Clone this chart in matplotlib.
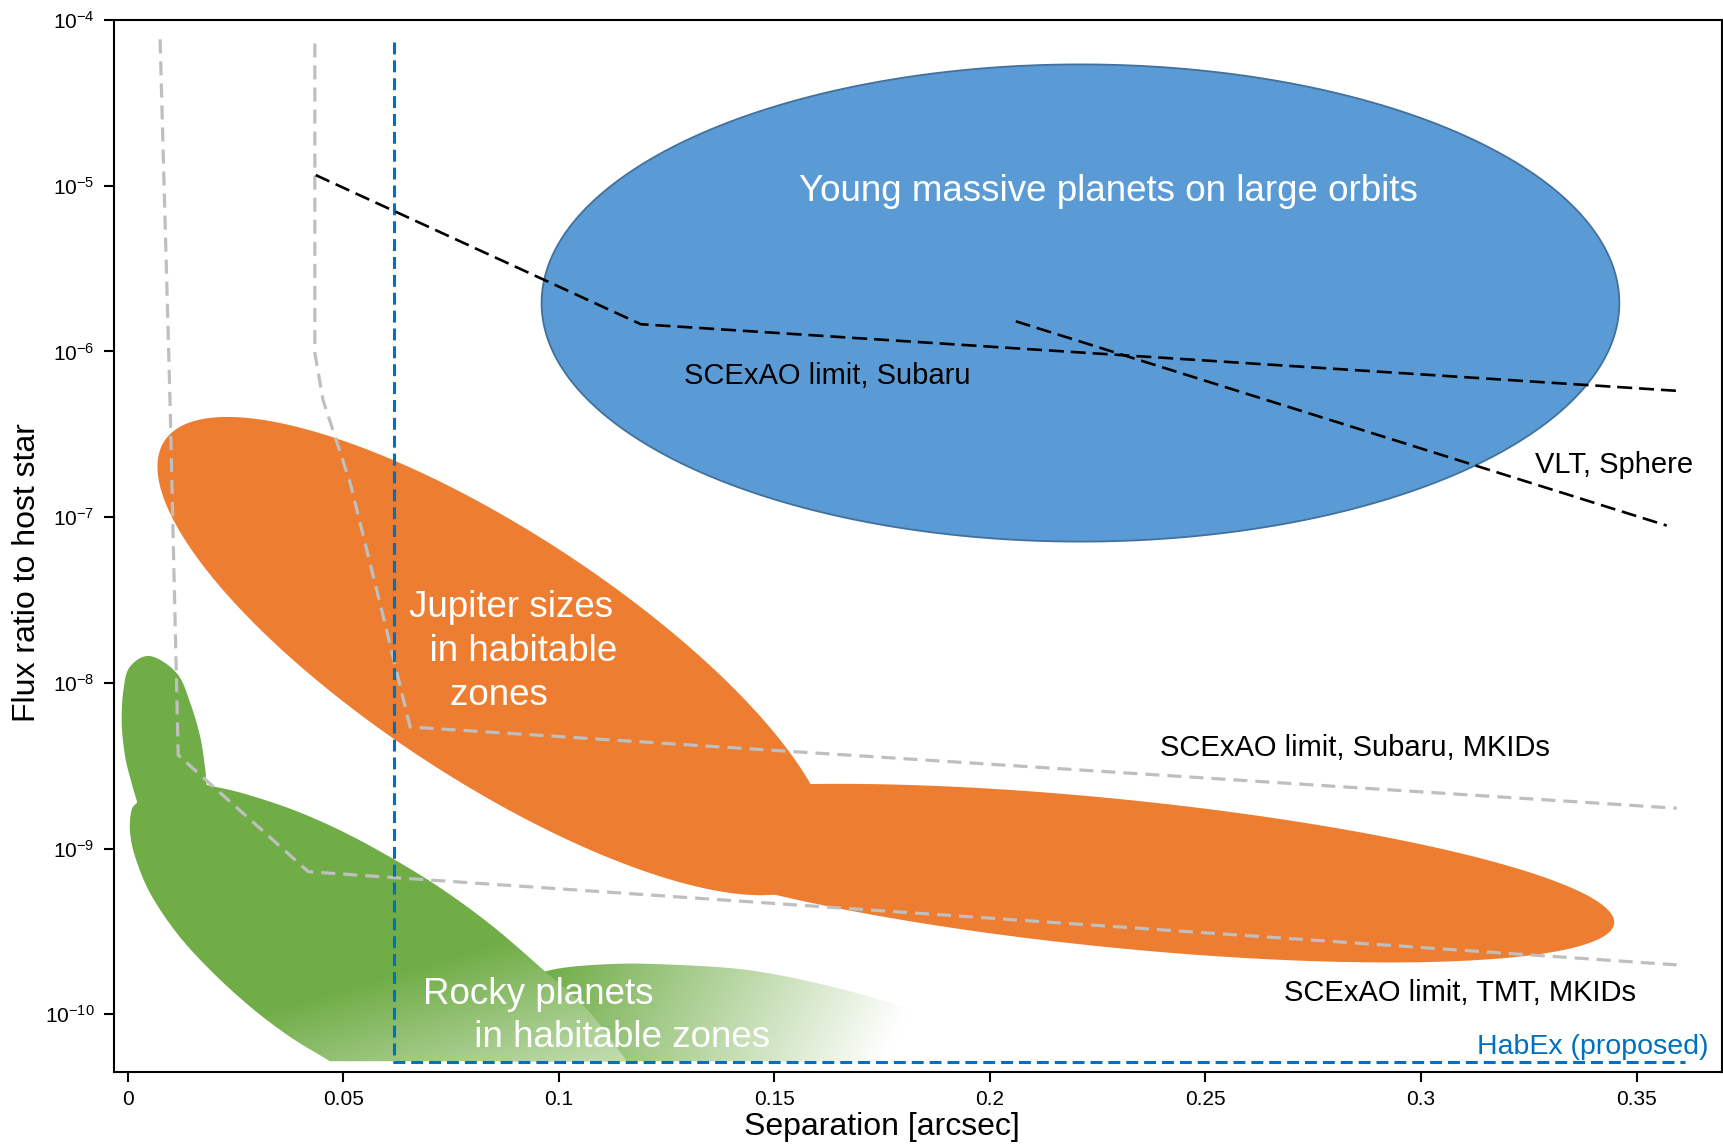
import numpy as np
import matplotlib.pyplot as plt
from matplotlib.patches import Polygon

plt.rcParams['font.family'] = ['Liberation Sans', 'DejaVu Sans']
plt.rcParams['mathtext.fontset'] = 'custom'
plt.rcParams['mathtext.rm'] = 'Liberation Sans'
plt.rcParams['axes.unicode_minus'] = False

# axes ticks
sep_ticks = [0, 0.05, 0.1, 0.15, 0.2, 0.25, 0.3, 0.35]
sep_ticklabels = ['0', '0.05', '0.1', '0.15', '0.2', '0.25', '0.3', '0.35']
flux_ticks = [1e-4, 1e-5, 1e-6, 1e-7, 1e-8, 1e-9, 1e-10]
flux_ticklabels = [r'$\mathregular{10^{-%d}}$' % n for n in range(4, 11)]

# instrument limits (separation [arcsec], flux ratio)
subaru_sep = [0.0436, 0.1190, 0.3600]
subaru_flux = [1.16e-5, 1.46e-6, 5.77e-7]
sphere_sep = [0.2060, 0.3570]
sphere_flux = [1.52e-6, 8.89e-8]
mkid_subaru_sep = [0.0434, 0.0434, 0.0453, 0.0516, 0.0593, 0.0655, 0.3593]
mkid_subaru_flux = [7.23e-5, 9.77e-7, 5.09e-7, 1.61e-7, 2.49e-8, 5.41e-9, 1.75e-9]
mkid_tmt_sep = [0.0075, 0.0098, 0.0117, 0.0419, 0.3598]
mkid_tmt_flux = [7.65e-5, 5.09e-7, 3.66e-9, 7.24e-10, 1.98e-10]
habex_sep = [0.0618, 0.0618, 0.3612]
habex_flux = [7.39e-5, 5.13e-11, 5.13e-11]

# elliptical regions: centre (sep, flux), half axes as (arcsec, decades)
young_center = (0.221, 1.96e-6)
young_major, young_minor = (0.125, 0.0), (0.0, 1.44)
jup_tilt_center = (0.0850, 1.45e-8)
jup_tilt_major, jup_tilt_minor = (0.0765, -1.298), (-0.0158, -0.631)
jup_flat_center = (0.2288, 7.1e-10)
jup_flat_major, jup_flat_minor = (0.1160, -0.3026), (-0.0017, -0.446)

# rocky planets region outline
rocky_floor = 5.2e-11
rocky_cap_sep = [0.0022, 0.0009, -0.0006, -0.0014, -0.0010, 0.0005, 0.0052, 0.0114, 0.0145, 0.0168, 0.0179, 0.0183]
rocky_cap_flux = [1.90e-9, 2.48e-9, 3.58e-9, 5.71e-9, 9.05e-9, 1.25e-8, 1.45e-8, 1.14e-8, 7.55e-9, 4.73e-9, 3.12e-9, 2.42e-9]
rocky_top_sep = [0.0183, 0.0268, 0.0384, 0.0500, 0.0620, 0.0732, 0.0848, 0.0964, 0.1067, 0.1158]
rocky_top_flux = [2.42e-9, 2.15e-9, 1.71e-9, 1.26e-9, 8.53e-10, 5.62e-10, 3.37e-10, 1.85e-10, 1.06e-10, rocky_floor]
rocky_low_sep = [0.0469, 0.0376, 0.0284, 0.0191, 0.0114, 0.0052, 0.0017, 0.0005, 0.0009, 0.0022]
rocky_low_flux = [rocky_floor, 7.31e-11, 1.11e-10, 1.85e-10, 3.08e-10, 5.37e-10, 8.93e-10, 1.29e-9, 1.71e-9, 1.90e-9]
rocky_tail_sep = [0.0863, 0.0887, 0.0975, 0.1125, 0.1281, 0.1436, 0.1589, 0.1745, 0.1907, 0.1965]
rocky_tail_flux = [rocky_floor, 1.40e-10, 1.83e-10, 2.01e-10, 1.98e-10, 1.85e-10, 1.56e-10, 1.22e-10, 8.61e-11, rocky_floor]

BLUE = '#5B9BD5'
ORANGE = '#ED7D31'
GREEN = np.array([0x70, 0xAD, 0x47]) / 255.0


def ellipse(center, major, minor, n=600):
    t = np.linspace(0, 2 * np.pi, n)
    s = center[0] + major[0] * np.cos(t) + minor[0] * np.sin(t)
    d = np.log10(center[1]) + major[1] * np.cos(t) + minor[1] * np.sin(t)
    return s, 10 ** d


def smooth(seps, fluxes, n=16):
    # catmull-rom through the points, in (sep, log flux) space
    p = np.column_stack([seps, np.log10(fluxes)])
    p = np.vstack([2 * p[0] - p[1], p, 2 * p[-1] - p[-2]])
    t = np.linspace(0, 1, n, endpoint=False)[:, None]
    out = []
    for i in range(1, len(p) - 2):
        p0, p1, p2, p3 = p[i - 1], p[i], p[i + 1], p[i + 2]
        out.append(0.5 * (2 * p1 + (-p0 + p2) * t + (2 * p0 - 5 * p1 + 4 * p2 - p3) * t ** 2
                          + (-p0 + 3 * p1 - 3 * p2 + p3) * t ** 3))
    out.append(p[-2][None])
    out = np.vstack(out)
    return out[:, 0], 10 ** out[:, 1]


def outline(*pieces):
    xs, ys = [], []
    for s, f in pieces:
        x, y = smooth(s, f)
        xs.append(x)
        ys.append(y)
    return np.concatenate(xs), np.concatenate(ys)


def gradient_fill(ax, sep, flux, frac, zorder):
    patch = Polygon(np.column_stack([sep, flux]), closed=True, facecolor='none',
                    edgecolor='none', transform=ax.transData)
    ax.add_patch(patch)
    u, v = np.meshgrid(np.linspace(0, 1, 800), np.linspace(0, 1, 500))
    f = np.clip(frac(u, v), 0, 1)[..., None]
    rgb = GREEN * (1 - f) + f
    im = ax.imshow(rgb, extent=[0, 1, 0, 1], transform=ax.transAxes, origin='lower',
                   aspect='auto', interpolation='bilinear', zorder=zorder)
    im.set_clip_path(patch)


fig = plt.figure(figsize=(17.24, 11.46), dpi=100)
ax = fig.add_axes([0.0661, 0.0646, 0.9327, 0.9179])
ax.set_yscale('log')
ax.set_xlim(-0.0032, 0.3698)
ax.set_ylim(4.48e-11, 1e-4)
ax.set_autoscale_on(False)

# young massive planets
ys, yf = ellipse(young_center, young_major, young_minor)
ax.fill(ys, yf, facecolor=BLUE, edgecolor='#41719C', lw=1.3, zorder=1)

# jupiter sizes
for c, ma, mi in [(jup_tilt_center, jup_tilt_major, jup_tilt_minor),
                  (jup_flat_center, jup_flat_major, jup_flat_minor)]:
    js, jf = ellipse(c, ma, mi)
    ax.fill(js, jf, facecolor=ORANGE, edgecolor='none', zorder=2)

# rocky planets
ts, tf = outline((rocky_tail_sep, rocky_tail_flux))
gradient_fill(ax, ts, tf, lambda u, v: 4.220 * u - 1.381 * v - 1.005, zorder=3)
rs, rf = outline((rocky_cap_sep, rocky_cap_flux), (rocky_top_sep, rocky_top_flux),
                 (rocky_low_sep, rocky_low_flux))
gradient_fill(ax, rs, rf, lambda u, v: 0.049 + 1.787 * u - 3.896 * v, zorder=4)

# limits
ax.plot(mkid_tmt_sep, mkid_tmt_flux, color='#BFBFBF', lw=2.3, ls=(0, (4.4, 2.5)), zorder=5)
ax.plot(mkid_subaru_sep, mkid_subaru_flux, color='#BFBFBF', lw=2.3, ls=(0, (4.4, 2.5)), zorder=5)
ax.plot(habex_sep, habex_flux, color='#0070C0', lw=2.2, ls=(0, (3.9, 1.95)), zorder=5)
ax.plot(subaru_sep, subaru_flux, color='black', lw=1.9, ls=(0, (5.7, 2.6)), zorder=5)
ax.plot(sphere_sep, sphere_flux, color='black', lw=1.9, ls=(0, (5.7, 2.6)), zorder=5)

# labels
big = 26.5
ax.text(0.2274, 9.29e-6, 'Young massive planets on large orbits', color='white',
        fontsize=big, ha='center', va='center', zorder=6)
ax.text(0.0653, 1.54e-8, 'Jupiter sizes\n  in habitable\n    zones', color='white',
        fontsize=big, ha='left', va='center', multialignment='left', linespacing=1.33, zorder=6)
ax.text(0.0686, 0.975e-10, 'Rocky planets\n     in habitable zones', color='white',
        fontsize=big, ha='left', va='center', multialignment='left', linespacing=1.33, zorder=6)
ax.text(0.1290, 7.11e-7, 'SCExAO limit, Subaru', fontsize=21, ha='left', va='center', zorder=6)
ax.text(0.3264, 2.07e-7, 'VLT, Sphere', fontsize=21, ha='left', va='center', zorder=6)
ax.text(0.2394, 4.03e-9, 'SCExAO limit, Subaru, MKIDs', fontsize=21, ha='left', va='center', zorder=6)
ax.text(0.2682, 1.34e-10, 'SCExAO limit, TMT, MKIDs', fontsize=21, ha='left', va='center', zorder=6)
ax.text(0.3667, 6.37e-11, 'HabEx (proposed)', color='#0070C0', fontsize=20.5,
        ha='right', va='center', zorder=6)

ax.set_xticks(sep_ticks)
ax.set_xticklabels(sep_ticklabels)
ax.set_yticks(flux_ticks)
ax.set_yticklabels(flux_ticklabels)
ax.minorticks_off()
ax.tick_params(direction='out', length=7.2, width=1.5, labelsize=15)
ax.tick_params(axis='x', pad=6)
ax.tick_params(axis='y', pad=7)
for sp in ax.spines.values():
    sp.set_linewidth(1.5)

ax.set_xlabel('Separation [arcsec]', fontsize=23)
ax.set_ylabel('Flux ratio to host star', fontsize=23)
ax.xaxis.set_label_coords(0.4775, -0.0523)
ax.xaxis.label.set_verticalalignment('center')
ax.yaxis.set_label_coords(-0.0538, 0.4745)
ax.yaxis.label.set_verticalalignment('center')

plt.savefig('out.png', dpi=100)
